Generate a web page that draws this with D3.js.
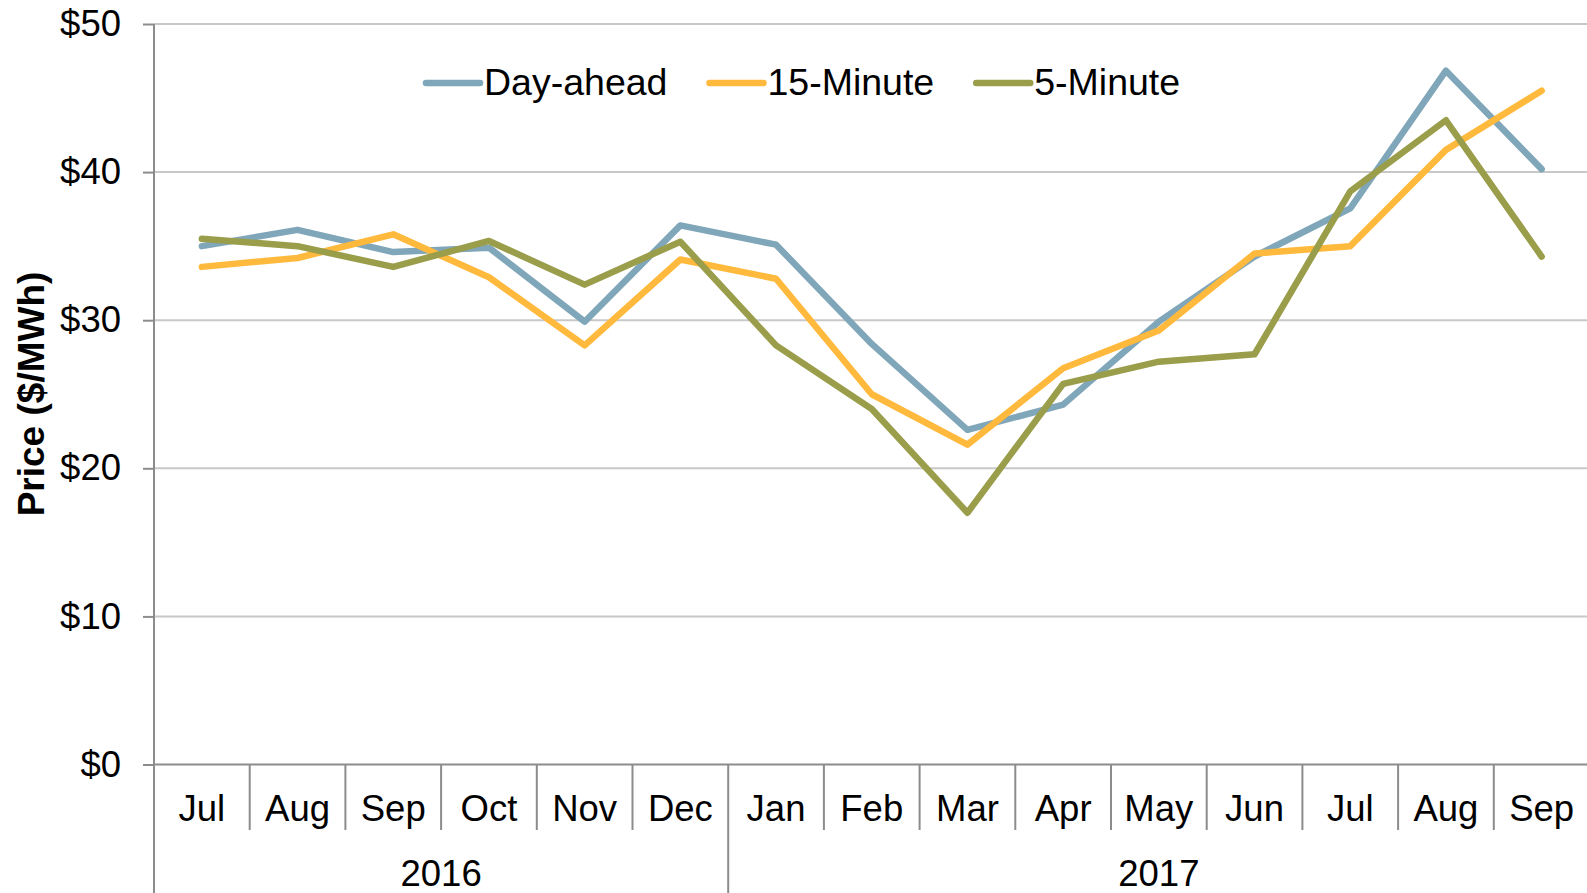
<!DOCTYPE html>
<html lang="en">
<head>
    <meta charset="UTF-8">
    <title>Day-ahead, 15-Minute and 5-Minute Prices</title>
    <script src="https://d3js.org/d3.v7.min.js"></script>
    <style>
        body {
            margin: 0;
            padding: 0;
            background: #fff;
        }
        svg text {
            font-family: "Liberation Sans", Arial, sans-serif;
            fill: #000;
        }
    </style>
</head>
<body>
    <svg width="1587" height="893"></svg>

    <script>
        // data ($/MWh)
        const months = ["Jul", "Aug", "Sep", "Oct", "Nov", "Dec", "Jan", "Feb", "Mar", "Apr", "May", "Jun", "Jul", "Aug", "Sep"];
        const yearLabels = ["2016", "2017"];
        const yearSpans = [6, 9];
        const dayAhead   = [35.0, 36.1, 34.6, 34.9, 29.9, 36.4, 35.1, 28.4, 22.6, 24.3, 29.9, 34.3, 37.55, 46.85, 40.2];
        const fifteenMin = [33.6, 34.2, 35.8, 32.9, 28.3, 34.1, 32.8, 25.0, 21.6, 26.75, 29.3, 34.5, 35.0, 41.5, 45.5];
        const fiveMin    = [35.5, 35.0, 33.6, 35.35, 32.4, 35.3, 28.3, 24.0, 17.0, 25.7, 27.2, 27.7, 38.7, 43.5, 34.3];
        const seriesNames = ["Day-ahead", "15-Minute", "5-Minute"];
        const yTicks = [0, 10, 20, 30, 40, 50];

        const colors = ["#80a6b9", "#ffb93c", "#9a9d4a"];
        const series = [dayAhead, fifteenMin, fiveMin];

        const plotLeft = 154, plotRight = 1589.5, plotTop = 24, plotBottom = 764.5;

        const svg = d3.select("svg");

        const x = d3.scaleBand()
            .domain(d3.range(months.length))
            .range([plotLeft, plotRight])
            .padding(0);

        const y = d3.scaleLinear()
            .domain([0, 50])
            .range([plotBottom, plotTop]);

        // gridlines
        svg.append("g")
            .selectAll("line")
            .data(yTicks.filter(d => d > 0))
            .enter()
            .append("line")
            .attr("x1", plotLeft)
            .attr("x2", 1587)
            .attr("y1", d => y(d))
            .attr("y2", d => y(d))
            .attr("stroke", "#c8c8c8")
            .attr("stroke-width", 2);

        // y axis
        const yAxis = svg.append("g")
            .attr("transform", `translate(${plotLeft},0)`)
            .call(d3.axisLeft(y).tickValues(yTicks).tickFormat(d => "$" + d).tickSize(11).tickSizeOuter(0));
        yAxis.select(".domain").remove();
        yAxis.selectAll(".tick line").attr("stroke", "#8c8c8c").attr("stroke-width", 2);
        yAxis.selectAll(".tick text")
            .attr("x", -33)
            .style("font-size", "36.5px")
            .style("font-family", "'Liberation Sans', Arial, sans-serif");

        svg.append("line")
            .attr("x1", plotLeft).attr("x2", plotLeft)
            .attr("y1", plotTop).attr("y2", 893)
            .attr("stroke", "#8c8c8c").attr("stroke-width", 2);

        // x axis baseline
        svg.append("line")
            .attr("x1", plotLeft).attr("x2", 1587)
            .attr("y1", plotBottom).attr("y2", plotBottom)
            .attr("stroke", "#8c8c8c").attr("stroke-width", 2);

        // category separators; year boundaries run to the bottom
        const yearStarts = yearSpans.map((n, i) => d3.sum(yearSpans.slice(0, i)));
        svg.append("g")
            .selectAll("line")
            .data(d3.range(1, months.length))
            .enter()
            .append("line")
            .attr("x1", i => x(i))
            .attr("x2", i => x(i))
            .attr("y1", plotBottom)
            .attr("y2", i => yearStarts.includes(i) ? 893 : 830)
            .attr("stroke", "#8c8c8c")
            .attr("stroke-width", 2);

        svg.append("g")
            .selectAll("text")
            .data(months)
            .enter()
            .append("text")
            .attr("x", (d, i) => x(i) + x.bandwidth() / 2)
            .attr("y", 821)
            .attr("text-anchor", "middle")
            .style("font-size", "36.5px")
            .text(d => d);

        svg.append("g")
            .selectAll("text")
            .data(yearLabels)
            .enter()
            .append("text")
            .attr("x", (d, i) => x(yearStarts[i]) + yearSpans[i] * x.bandwidth() / 2)
            .attr("y", 886)
            .attr("text-anchor", "middle")
            .style("font-size", "36.5px")
            .text(d => d);

        // y axis title
        svg.append("text")
            .attr("transform", "translate(31,394) rotate(-90)")
            .attr("text-anchor", "middle")
            .attr("dominant-baseline", "central")
            .style("font-size", "37px")
            .style("font-weight", "bold")
            .text("Price ($/MWh)");

        // lines
        const line = d3.line()
            .x((d, i) => x(i) + x.bandwidth() / 2)
            .y(d => y(d));

        svg.append("g")
            .selectAll("path")
            .data(series)
            .enter()
            .append("path")
            .attr("d", d => line(d))
            .attr("fill", "none")
            .attr("stroke", (d, i) => colors[i])
            .attr("stroke-width", 6.5)
            .attr("stroke-linecap", "round")
            .attr("stroke-linejoin", "round");

        // legend
        const legend = svg.append("g");
        let lx = 426;
        seriesNames.forEach(function(name, i) {
            legend.append("line")
                .attr("x1", lx).attr("x2", lx + 54)
                .attr("y1", 83).attr("y2", 83)
                .attr("stroke", colors[i])
                .attr("stroke-width", 6.5)
                .attr("stroke-linecap", "round");
            const t = legend.append("text")
                .attr("x", lx + 58)
                .attr("y", 95)
                .style("font-size", "37.5px")
                .text(name);
            lx += 58 + t.node().getComputedTextLength() + 42;
        });
    </script>
</body>
</html>
